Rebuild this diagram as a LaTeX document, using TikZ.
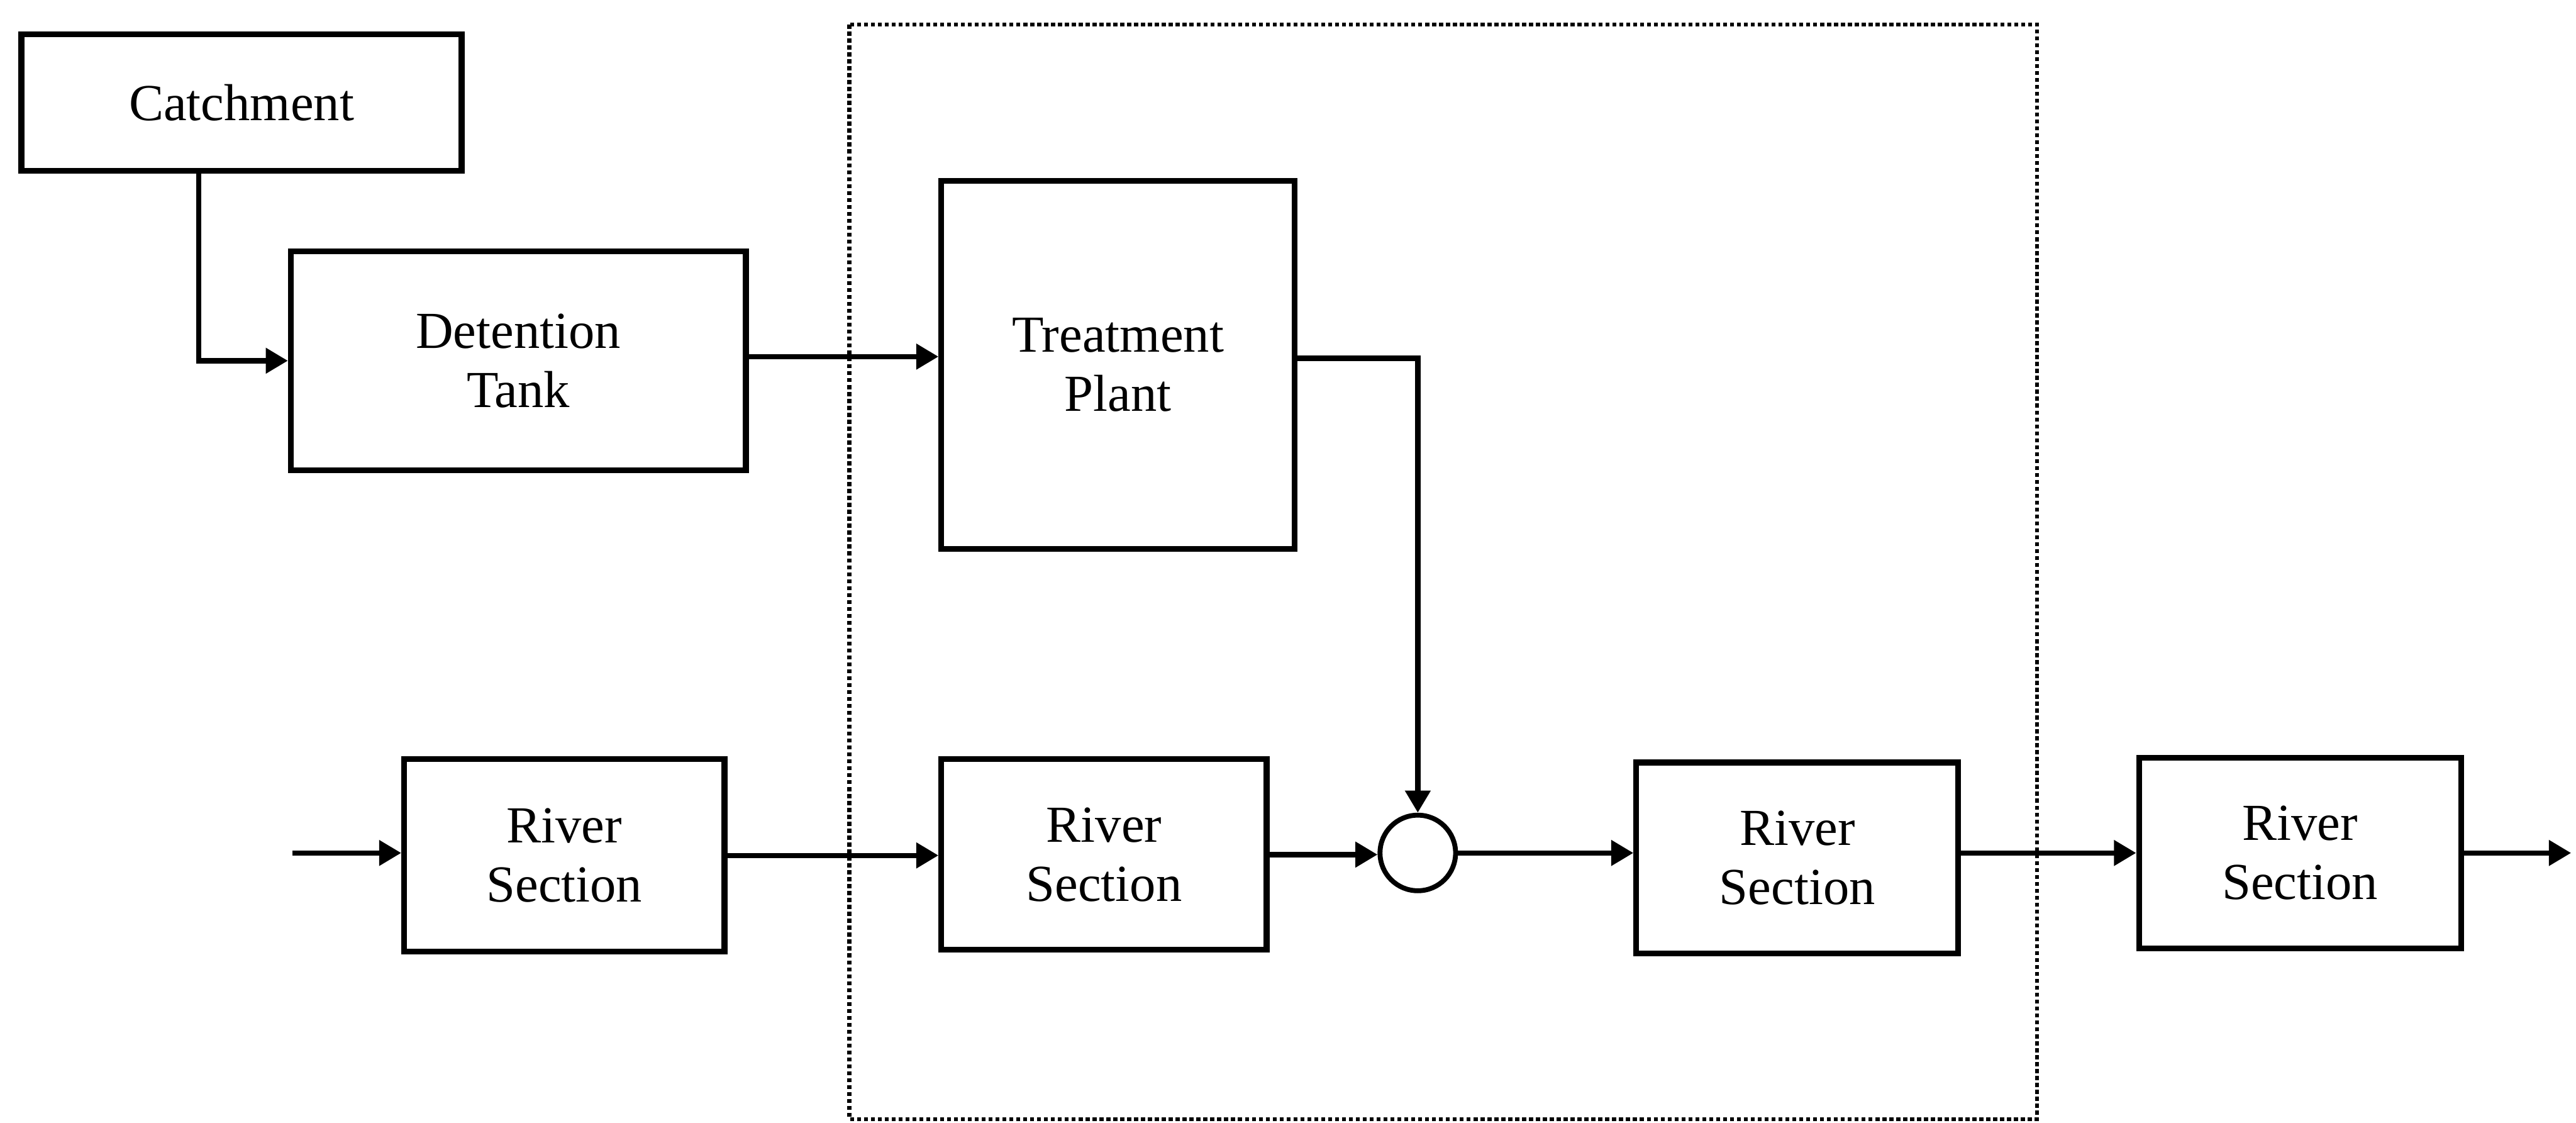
\documentclass[tikz,border=0pt]{standalone}
\usepackage{fontspec}
\setmainfont{Liberation Serif}
\usepackage{tikz}
\usetikzlibrary{arrows.meta}
\tikzset{
  blockbox/.style={draw,line width=2pt,align=center,inner sep=0pt,
    font=\fontsize{18}{20.5}\selectfont},
  flow/.style={line width=1.8pt,-{Triangle[length=0.27cm,width=0.3cm]}},
}

\begin{document}
\begin{tikzpicture}[>=Triangle]
  \useasboundingbox (0,0) rectangle (31.36,-13.66);
  % plant boundary
  \draw[line width=1.4pt,densely dotted] (10.34,-0.30) rectangle (24.80,-13.62);
  % blocks
  \node[blockbox,minimum width=5.36cm,minimum height=1.66cm] (catch) at (2.94,-1.25) {Catchment};
  \node[blockbox,minimum width=5.54cm,minimum height=2.66cm] (det) at (6.31,-4.39) {Detention\\Tank};
  \node[blockbox,minimum width=4.30cm,minimum height=4.48cm] (tp) at (13.61,-4.44) {Treatment\\Plant};
  \node[blockbox,minimum width=3.90cm,minimum height=2.34cm] (rs1) at (6.87,-10.41) {River\\Section};
  \node[blockbox,minimum width=3.96cm,minimum height=2.32cm] (rs2) at (13.44,-10.40) {River\\Section};
  \node[draw,circle,line width=1.7pt,minimum size=0.92cm,inner sep=0pt] (sum) at (17.26,-10.38) {};
  \node[blockbox,minimum width=3.92cm,minimum height=2.32cm] (rs3) at (21.88,-10.44) {River\\Section};
  \node[blockbox,minimum width=3.92cm,minimum height=2.32cm] (rs4) at (28.00,-10.38) {River\\Section};
  \coordinate (inflow) at (3.56,-10.38);
  \coordinate (outflow) at (31.30,-10.38);
  % connections
  \draw[flow] ([xshift=-0.52cm]catch.south) |- (det.west);
  \draw[flow] ([yshift=0.05cm]det.east) -- ([yshift=0.05cm]det.east -| tp.west);
  \draw[flow] ([yshift=0.08cm]tp.east) -| (sum.north);
  \draw[flow] (inflow) -- (inflow -| rs1.west);
  \draw[flow] (rs1.east) -- (rs1.east -| rs2.west);
  \draw[flow] (rs2.east) -- (rs2.east -| sum.west);
  \draw[flow] (sum.east) -- (sum.east -| rs3.west);
  \draw[flow] (rs3.east |- rs4.west) -- (rs4.west);
  \draw[flow] (rs4.east) -- (outflow);
\end{tikzpicture}
\end{document}
